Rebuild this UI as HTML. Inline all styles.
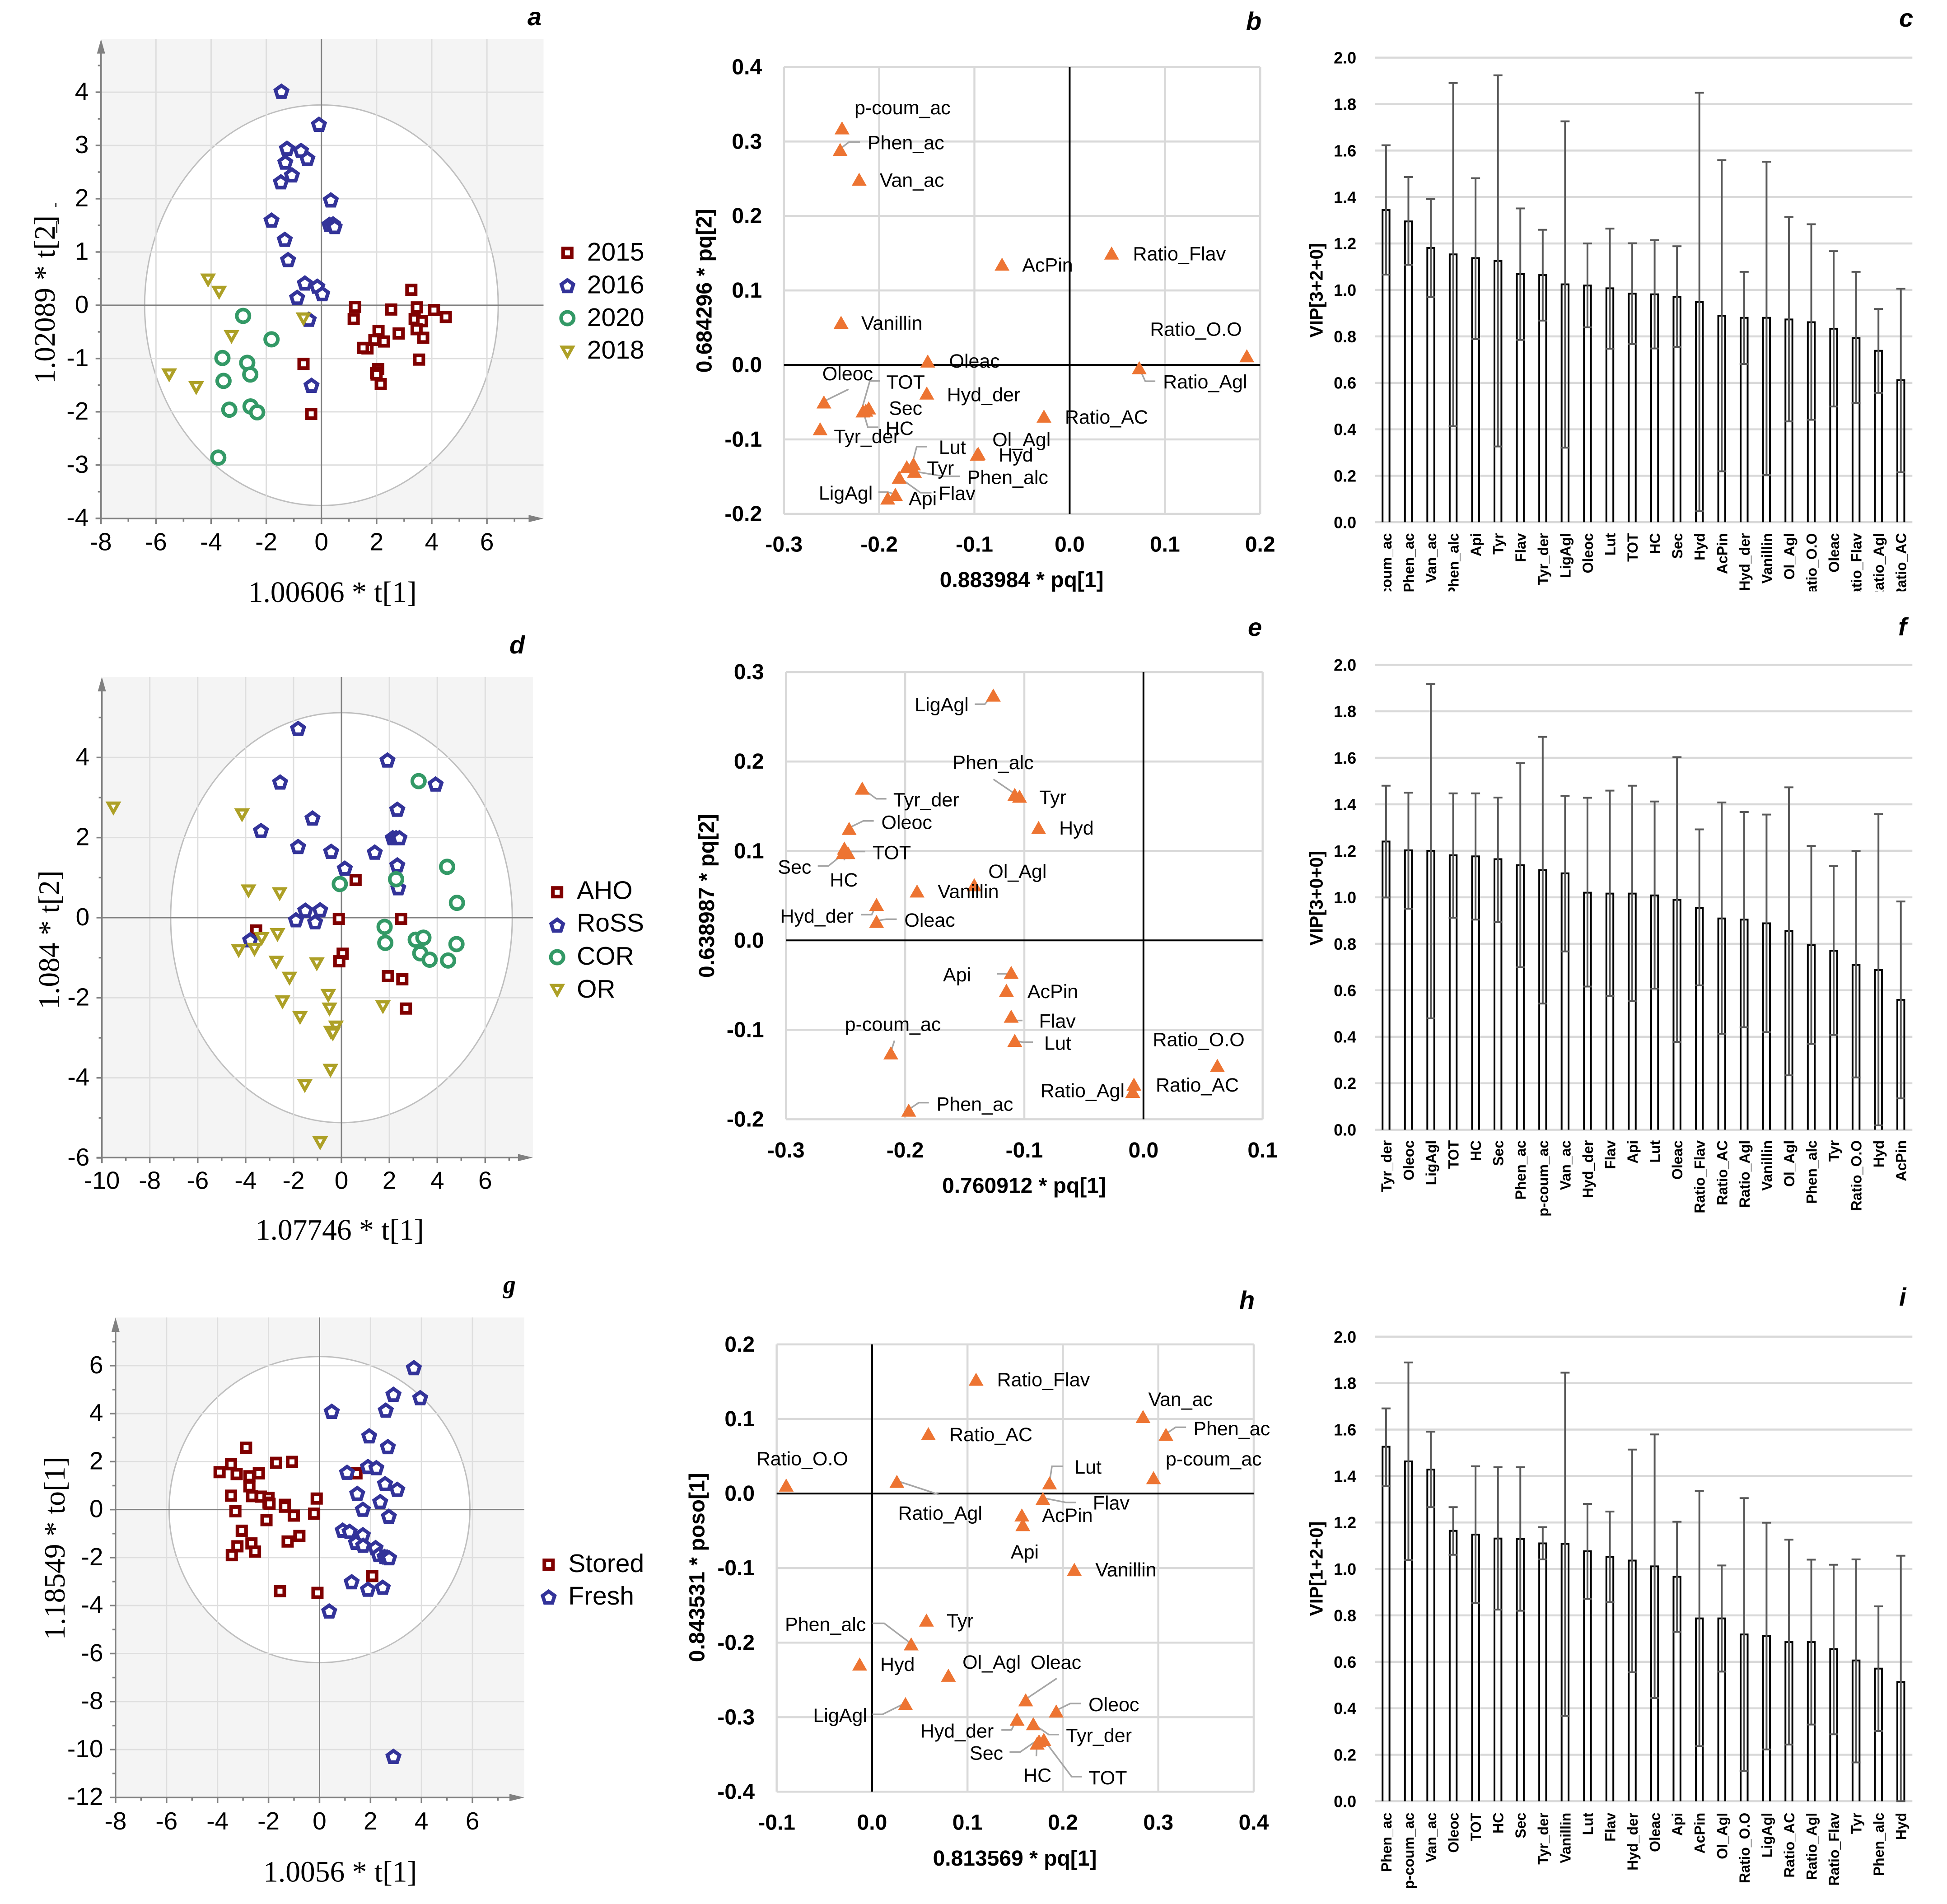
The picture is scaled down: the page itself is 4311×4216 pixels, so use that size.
<!DOCTYPE html>
<html lang="en">
<head>
<meta charset="utf-8">
<title>PCA score, loading and VIP panels</title>
<style>
html,body{margin:0;padding:0;background:#fff}
svg{display:block}
</style>
</head>
<body>
<svg id="figure" xmlns="http://www.w3.org/2000/svg" width="4311" height="4216" viewBox="0 0 4311 4216">
<rect x="0" y="0" width="4311" height="4216" fill="#ffffff"/>
</svg>
<script>
/* ---------- panel a data ---------- */
const aXTicks=[-8,-6,-4,-2,0,2,4,6];
const aYTicks=[-4,-3,-2,-1,0,1,2,3,4];
const a2015X=[3.26,1.22,1.17,2.53,3.46,4.08,4.51,3.38,3.65,3.45,3.69,2.8,2.07,1.92,2.27,1.67,1.51,3.54,-0.65,2.06,1.98,2.0,2.15,-0.37];
const a2015Y=[0.29,-0.03,-0.26,-0.08,-0.04,-0.09,-0.22,-0.26,-0.30,-0.45,-0.61,-0.53,-0.48,-0.65,-0.68,-0.81,-0.80,-1.02,-1.10,-1.20,-1.27,-1.30,-1.48,-2.04];
const a2016X=[-1.45,-0.09,-1.25,-0.74,-0.51,-1.31,-1.07,-1.47,0.34,-1.81,0.29,0.42,0.48,-1.33,-1.21,-0.6,-0.15,0.03,-0.88,-0.46,-0.36];
const a2016Y=[4.02,3.40,2.95,2.91,2.76,2.69,2.45,2.32,1.98,1.60,1.52,1.53,1.48,1.24,0.86,0.42,0.36,0.22,0.15,-0.26,-1.50];
const a2020X=[-2.84,-1.81,-3.59,-2.69,-2.58,-3.55,-2.57,-2.33,-3.34,-3.74];
const a2020Y=[-0.2,-0.64,-0.99,-1.08,-1.30,-1.42,-1.9,-2.01,-1.96,-2.86];
const a2018X=[-4.11,-3.71,-0.65,-3.26,-5.52,-4.54];
const a2018Y=[0.46,0.23,-0.27,-0.6,-1.32,-1.56];

/* ---------- panel d data ---------- */
const dXTicks=[-10,-8,-6,-4,-2,0,2,4,6];
const dYTicks=[-6,-4,-2,0,2,4];
const dAhoX=[0.59,-0.11,2.49,-3.56,0.05,-0.09,1.94,2.54,2.69];
const dAhoY=[0.94,-0.03,-0.03,-0.32,-0.90,-1.09,-1.46,-1.54,-2.27];
const dRossX=[-1.81,1.92,3.93,-2.56,2.33,-1.21,-3.36,2.14,2.28,2.42,-1.81,-0.43,1.39,2.33,0.14,2.37,-1.51,-0.89,-1.90,-1.10,-3.81];
const dRossY=[4.73,3.94,3.34,3.39,2.71,2.49,2.18,2.0,2.0,2.0,1.78,1.66,1.64,1.32,1.24,0.75,0.19,0.20,-0.05,-0.10,-0.55];
const dCorX=[3.22,4.41,2.28,-0.07,4.82,1.8,1.83,3.1,3.42,4.8,3.29,3.68,4.45];
const dCorY=[3.41,1.27,0.96,0.84,0.37,-0.23,-0.63,-0.55,-0.5,-0.66,-0.89,-1.05,-1.07];
const dOrX=[-9.52,-4.15,-3.88,-2.58,-2.67,-3.33,-4.29,-3.63,-2.72,-1.03,-2.17,-2.46,-0.55,-0.5,1.73,-1.73,-0.23,-0.44,-0.36,-0.46,-1.53,-0.89];
const dOrY=[2.72,2.55,0.65,0.58,-0.44,-0.54,-0.84,-0.81,-1.13,-1.17,-1.53,-2.12,-1.96,-2.30,-2.24,-2.51,-2.75,-2.88,-2.92,-3.83,-4.21,-5.64];

/* ---------- panel g data ---------- */
const gXTicks=[-8,-6,-4,-2,0,2,4,6];
const gYTicks=[-12,-10,-8,-6,-4,-2,0,2,4,6];
const gStoredX=[-2.88,-3.47,-3.92,-3.25,-2.38,-1.7,-1.08,1.45,-2.75,-2.75,-3.47,-2.65,-2.3,-2.0,-2.0,-1.96,-1.36,-1.36,-0.11,-3.3,-1.01,-0.21,-2.08,-3.05,-0.79,-1.25,-2.67,-3.22,-2.53,-3.44,2.07,-1.55,-0.08];
const gStoredY=[2.58,1.89,1.56,1.48,1.51,1.95,1.99,1.51,1.39,0.97,0.58,0.56,0.54,0.49,0.29,0.24,0.2,0.12,0.46,-0.07,-0.25,-0.17,-0.44,-0.88,-1.1,-1.33,-1.41,-1.53,-1.75,-1.9,-2.77,-3.4,-3.47];
const gFreshX=[3.7,2.9,3.95,2.6,0.48,1.95,2.68,1.9,2.23,1.08,2.57,3.05,1.48,2.38,1.7,2.72,0.91,1.18,1.7,1.43,1.71,2.2,2.32,2.55,2.65,2.73,1.26,1.9,2.48,0.38,2.9];
const gFreshY=[5.92,4.81,4.67,4.15,4.1,3.08,2.63,1.8,1.75,1.56,1.09,0.85,0.68,0.34,0.02,-0.27,-0.85,-0.9,-1.04,-1.36,-1.48,-1.58,-1.87,-1.95,-1.97,-2.0,-3.0,-3.31,-3.23,-4.22,-10.28];

/* ---------- panel b data ---------- */
const bXTicks=[-0.3,-0.2,-0.1,0,0.1,0.2];
const bYTicks=[-0.2,-0.1,0,0.1,0.2,0.3,0.4];
const bNames=["p-coum_ac","Phen_ac","Van_ac","AcPin","Ratio_Flav","Vanillin","Ratio_O.O","Oleac","Ratio_Agl","Hyd_der","Oleoc","Sec","TOT","HC","Ratio_AC","Tyr_der","Ol_Agl","Hyd","Lut","Tyr","Phen_alc","Flav","LigAgl","Api"];
const bX=[-0.239,-0.241,-0.221,-0.071,0.044,-0.24,0.186,-0.149,0.073,-0.15,-0.258,-0.211,-0.214,-0.217,-0.027,-0.262,-0.096,-0.097,-0.164,-0.171,-0.163,-0.179,-0.183,-0.191];
const bY=[0.318,0.289,0.249,0.135,0.15,0.057,0.012,0.005,-0.004,-0.038,-0.05,-0.058,-0.061,-0.062,-0.069,-0.086,-0.119,-0.12,-0.133,-0.137,-0.143,-0.151,-0.174,-0.179];
const bLabelOffsets={"p-coum_ac":[31,-51],"Phen_ac":[68,-18],"Van_ac":[51,1],"AcPin":[50,1],"Ratio_Flav":[53,1],"Vanillin":[50,1],"Ratio_O.O":[-240,-67],"Oleac":[53,-1],"Ratio_Agl":[59,34],"Hyd_der":[50,3],"Oleoc":[-4,-71],"Sec":[50,0],"TOT":[51,-71],"HC":[56,42],"Ratio_AC":[52,1],"Tyr_der":[34,18],"Ol_Agl":[35,-35],"Hyd":[53,1],"Lut":[63,-42],"Tyr":[50,2],"Phen_alc":[131,14],"Flav":[98,39],"LigAgl":[-190,-4],"Api":[52,0]};
const bLeaderOffsets={"Phen_ac":[[0,-2],[22,-19],[49,-19]],"Ratio_Agl":[[0,0],[15,33],[40,33]],"Oleoc":[[0,-2],[61,-32]],"TOT":[[-10,-3],[10,-73],[35,-73]],"HC":[[-2,-8],[12,40],[38,40]],"Lut":[[-2,-5],[8,-43],[34,-43]],"Phen_alc":[[0,0],[71,12],[113,12]],"Flav":[[0,0],[53,38],[80,38]],"LigAgl":[[-42,-6],[-18,-6],[0,0]]};

/* ---------- panel e data ---------- */
const eXTicks=[-0.3,-0.2,-0.1,0,0.1];
const eYTicks=[-0.2,-0.1,0,0.1,0.2,0.3];
const eNames=["LigAgl","Phen_alc","Tyr","Tyr_der","Hyd","Oleoc","HC","TOT","Sec","Ol_Agl","Vanillin","Hyd_der","Oleac","Api","AcPin","Flav","Lut","p-coum_ac","Ratio_O.O","Ratio_Agl","Ratio_AC","Phen_ac"];
const eX=[-0.126,-0.108,-0.104,-0.236,-0.088,-0.247,-0.251,-0.248,-0.252,-0.142,-0.19,-0.224,-0.224,-0.111,-0.115,-0.111,-0.108,-0.212,0.062,-0.008,-0.009,-0.197];
const eY=[0.274,0.163,0.161,0.17,0.126,0.125,0.103,0.098,0.098,0.062,0.055,0.04,0.021,-0.036,-0.056,-0.085,-0.112,-0.126,-0.14,-0.161,-0.169,-0.19];
const eLabelOffsets={"LigAgl":[-195,23],"Phen_alc":[-154,-80],"Tyr":[49,2],"Tyr_der":[77,28],"Hyd":[51,0],"Oleoc":[80,-16],"TOT":[61,-1],"HC":[-36,78],"Sec":[-162,35],"Ol_Agl":[35,-34],"Vanillin":[51,0],"Hyd_der":[-239,28],"Oleac":[69,-4],"Api":[-169,5],"AcPin":[52,2],"Flav":[69,11],"Lut":[73,6],"p-coum_ac":[-114,-72],"Ratio_O.O":[-160,-65],"Ratio_Agl":[-232,15],"Ratio_AC":[57,-17],"Phen_ac":[69,-16]};
const eLeaderOffsets={"LigAgl":[[0,-3],[-21,22],[-46,22]],"Phen_alc":[[0,-2],[-53,-38]],"Tyr_der":[[0,0],[35,26],[60,26]],"Oleoc":[[0,-2],[35,-19],[61,-19]],"TOT":[[-8,-3],[43,-3]],"HC":[[0,0],[0,30]],"Sec":[[8,-3],[-37,33],[-63,33]],"Hyd_der":[[0,-1],[-12,25],[-38,25]],"Oleac":[[0,-2],[24,-6],[50,-6]],"Api":[[0,3],[-35,3]],"Flav":[[0,0],[3,10],[28,10]],"Lut":[[0,0],[20,4],[45,4]],"p-coum_ac":[[0,-3],[9,-31]],"Phen_ac":[[0,-2],[25,-19],[50,-19]]};

/* ---------- panel h data ---------- */
const hXTicks=[-0.1,0,0.1,0.2,0.3,0.4];
const hYTicks=[-0.4,-0.3,-0.2,-0.1,0,0.1,0.2];
const hNames=["Ratio_Flav","Van_ac","Phen_ac","Ratio_AC","p-coum_ac","Ratio_O.O","Ratio_Agl","Lut","Flav","AcPin","Api","Vanillin","Tyr","Phen_alc","Hyd","Ol_Agl","Oleac","LigAgl","Oleoc","Hyd_der","Tyr_der","Sec","TOT","HC"];
const hX=[0.109,0.284,0.308,0.059,0.295,-0.09,0.026,0.186,0.179,0.157,0.158,0.212,0.057,0.041,-0.013,0.08,0.161,0.035,0.193,0.152,0.169,0.175,0.18,0.173];
const hY=[0.153,0.103,0.079,0.08,0.021,0.011,0.016,0.014,-0.007,-0.029,-0.042,-0.102,-0.17,-0.202,-0.229,-0.244,-0.277,-0.282,-0.292,-0.303,-0.309,-0.332,-0.33,-0.335];
const hLabelOffsets={"Ratio_Flav":[52,0],"Van_ac":[13,-43],"Phen_ac":[68,-15],"Ratio_AC":[52,1],"p-coum_ac":[30,-47],"Ratio_O.O":[-74,-66],"Ratio_Agl":[3,77],"Lut":[62,-40],"Flav":[124,10],"AcPin":[50,0],"Api":[-30,66],"Vanillin":[52,0],"Tyr":[50,1],"Phen_alc":[-313,-49],"Hyd":[51,0],"Ol_Agl":[35,-33],"Oleac":[12,-93],"LigAgl":[-229,28],"Oleoc":[80,-17],"Hyd_der":[-240,28],"Tyr_der":[81,28],"Sec":[-172,29],"TOT":[111,93],"HC":[-34,78]};
const hLeaderOffsets={"Phen_ac":[[0,-2],[24,-18],[50,-18]],"Ratio_Agl":[[0,-2],[105,32]],"Lut":[[0,-3],[6,-41],[33,-41]],"Flav":[[0,-2],[57,9],[82,9]],"Phen_alc":[[0,-1],[-67,-51],[-96,-51]],"Oleac":[[0,-2],[77,-53]],"LigAgl":[[0,-2],[-57,26],[-82,26]],"Oleoc":[[0,-2],[35,-19],[62,-19]],"Hyd_der":[[0,-2],[-14,26],[-39,26]],"Tyr_der":[[0,0],[38,26],[64,26]],"Sec":[[0,-5],[-47,27],[-73,27]],"TOT":[[0,0],[69,91],[94,91]],"HC":[[0,-10],[-2,32]]};

/* ---------- VIP panels data ---------- */
const vipTicks=[0,0.2,0.4,0.6,0.8,1.0,1.2,1.4,1.6,1.8,2.0];
const cCats=["p-coum_ac","Phen_ac","Van_ac","Phen_alc","Api","Tyr","Flav","Tyr_der","LigAgl","Oleoc","Lut","TOT","HC","Sec","Hyd","AcPin","Hyd_der","Vanillin","Ol_Agl","Ratio_O.O","Oleac","Ratio_Flav","Ratio_Agl","Ratio_AC"];
const cMean=[1.344,1.295,1.181,1.153,1.137,1.125,1.068,1.064,1.024,1.019,1.007,0.984,0.981,0.970,0.948,0.889,0.880,0.880,0.873,0.861,0.833,0.793,0.738,0.611];
const cUpper=[1.623,1.486,1.391,1.891,1.481,1.924,1.351,1.259,1.726,1.2,1.264,1.201,1.214,1.188,1.849,1.559,1.078,1.552,1.314,1.283,1.167,1.078,0.918,1.005];
const cLower=[1.066,1.108,0.969,0.413,0.788,0.326,0.785,0.868,0.321,0.839,0.747,0.767,0.748,0.755,0.047,0.219,0.681,0.203,0.434,0.441,0.498,0.514,0.557,0.215];
const fCats=["Tyr_der","Oleoc","LigAgl","TOT","HC","Sec","Phen_ac","p-coum_ac","Van_ac","Hyd_der","Flav","Api","Lut","Oleac","Ratio_Flav","Ratio_AC","Ratio_Agl","Vanillin","Ol_Agl","Phen_alc","Tyr","Ratio_O.O","Hyd","AcPin"];
const fMean=[1.240,1.202,1.200,1.181,1.176,1.164,1.138,1.117,1.103,1.020,1.016,1.016,1.008,0.989,0.954,0.909,0.904,0.888,0.855,0.794,0.770,0.709,0.687,0.559];
const fUpper=[1.480,1.450,1.917,1.447,1.447,1.429,1.577,1.690,1.436,1.428,1.459,1.480,1.412,1.603,1.292,1.408,1.367,1.356,1.473,1.221,1.134,1.199,1.358,0.982];
const fLower=[0.999,0.951,0.479,0.912,0.904,0.893,0.699,0.543,0.767,0.616,0.576,0.553,0.607,0.378,0.621,0.413,0.441,0.420,0.234,0.369,0.408,0.225,0.019,0.135];
const iCats=["Phen_ac","p-coum_ac","Van_ac","Oleoc","TOT","HC","Sec","Tyr_der","Vanillin","Lut","Flav","Hyd_der","Oleac","Api","AcPin","Ol_Agl","Ratio_O.O","LigAgl","Ratio_AC","Ratio_Agl","Ratio_Flav","Tyr","Phen_alc","Hyd"];
const iMean=[1.526,1.463,1.428,1.164,1.148,1.131,1.129,1.110,1.108,1.076,1.052,1.036,1.011,0.966,0.787,0.787,0.718,0.711,0.685,0.685,0.655,0.606,0.571,0.513];
const iUpper=[1.691,1.889,1.591,1.266,1.442,1.438,1.438,1.180,1.845,1.280,1.247,1.514,1.579,1.203,1.336,1.015,1.305,1.199,1.126,1.040,1.018,1.041,0.839,1.057];
const iLower=[1.356,1.038,1.266,1.061,0.853,0.825,0.820,1.041,0.367,0.871,0.857,0.555,0.444,0.729,0.237,0.558,0.130,0.223,0.244,0.330,0.288,0.167,0.302,0];

/* ---------- drawing helpers ---------- */
const NS="http://www.w3.org/2000/svg";
const SANS='"Liberation Sans", sans-serif';
const SERIF='"Liberation Serif", serif';
const figure=document.getElementById('figure');
function make(tag,attrs,parent){
  const e=document.createElementNS(NS,tag);
  for(const k in attrs){e.setAttribute(k,attrs[k]);}
  parent.appendChild(e);
  return e;
}
function write(str,attrs,parent){
  const e=make('text',attrs,parent);
  e.textContent=str;
  return e;
}
function fmt1(v){return v.toFixed(1);}
function slug(s){return String(s).toLowerCase().replace(/[^a-z0-9]+/g,'-');}
function pentagonPoints(cx,cy,r){
  const pts=[];
  for(let i=0;i<5;i++){
    const a=-Math.PI/2+i*2*Math.PI/5;
    pts.push((cx+r*Math.cos(a)).toFixed(1)+','+(cy+1.8+r*Math.sin(a)).toFixed(1));
  }
  return pts.join(' ');
}
function drawMarker(shape,cx,cy,color,parent){
  if(shape==='square'){
    return make('rect',{x:cx-9.5,y:cy-9.5,width:19,height:19,fill:'#fff',stroke:color,'stroke-width':8},parent);
  }
  if(shape==='pentagon'){
    return make('polygon',{points:pentagonPoints(cx,cy,14),fill:'#fff',stroke:color,'stroke-width':8},parent);
  }
  if(shape==='circle'){
    return make('circle',{cx:cx,cy:cy,r:14,fill:'#fff',stroke:color,'stroke-width':8},parent);
  }
  const pts=[(cx-11.5)+','+(cy-12.5),(cx+11.5)+','+(cy-12.5),cx+','+(cy+8)].join(' ');
  return make('polygon',{points:pts,fill:'#fff',stroke:color,'stroke-width':7},parent);
}
function panelLetter(letter,x,y,family,parent){
  const t=write(letter,{x:x,y:y,'font-family':family,'font-size':56,'font-weight':'bold','font-style':'italic',fill:'#000'},parent);
  
  
}

/* ---------- score plots ---------- */
function drawScore(cfg){
  const p=make('g',{},figure);
  
  
  const zx=z=>cfg.ox+cfg.sx*z;
  const zy=z=>cfg.oy+cfg.sy*z;
  const X=v=>zx(cfg.x0+cfg.kx*v);
  const Y=v=>zy(cfg.y0-cfg.ky*v);
  const L=zx(cfg.bg[0]),T=zy(cfg.bg[1]),R=zx(cfg.bg[2]),B=zy(cfg.bg[3]);
  const AXIS='#808080';

  const bg=make('rect',{x:L,y:T,width:R-L,height:B-T,fill:'#f4f4f4'},p);
  
  

  const ell=make('ellipse',{cx:X(0),cy:Y(0),rx:cfg.sx*cfg.kx*cfg.rx,ry:cfg.sy*cfg.ky*cfg.ry,fill:'#fff',stroke:'#bfbfbf','stroke-width':3},p);
  
  

  cfg.xTicks.forEach(v=>{
    if(v===cfg.xTicks[0]||v===0)return;
    const g=make('line',{x1:X(v),x2:X(v),y1:T,y2:B,stroke:'#dedede','stroke-width':3},p);
    
    
  });
  cfg.yTicks.forEach(v=>{
    if(v===cfg.yTicks[0]||v===0)return;
    const g=make('line',{x1:L,x2:R,y1:Y(v),y2:Y(v),stroke:'#dedede','stroke-width':3},p);
    
    
  });

  const zv=make('line',{x1:X(0),x2:X(0),y1:T,y2:B,stroke:AXIS,'stroke-width':3},p);
  
  
  const zh=make('line',{x1:L,x2:R,y1:Y(0),y2:Y(0),stroke:AXIS,'stroke-width':3},p);
  
  

  const yAxis=make('line',{x1:L,x2:L,y1:T+10,y2:B+12,stroke:AXIS,'stroke-width':3.5},p);
  
  
  const xAxis=make('line',{x1:L-12,x2:R-10,y1:B,y2:B,stroke:AXIS,'stroke-width':3.5},p);
  
  
  const arrowUp=make('polygon',{points:[L+','+T,(L-9)+','+(T+32),(L+9)+','+(T+32)].join(' '),fill:AXIS},p);
  
  
  const arrowRight=make('polygon',{points:[R+','+B,(R-33)+','+(B-8),(R-33)+','+(B+8)].join(' '),fill:AXIS},p);
  
  

  /* minor ticks */
  const lastXTick=cfg.xTicks[cfg.xTicks.length-1];
  for(let v=cfg.xTicks[0];v<=lastXTick+cfg.xMinor;v+=cfg.xMinor){
    if(X(v)>R-34)break;
    const major=cfg.xTicks.indexOf(v)>=0;
    const t=make('line',{x1:X(v),x2:X(v),y1:B,y2:B+(major?12:7),stroke:AXIS,'stroke-width':3.5},p);
    
    
  }
  const lastYTick=cfg.yTicks[cfg.yTicks.length-1];
  for(let v=cfg.yTicks[0];v<=lastYTick+cfg.yMinor;v+=cfg.yMinor){
    if(Y(v)<T+34)break;
    const major=cfg.yTicks.indexOf(v)>=0;
    const t=make('line',{x1:L-(major?12:7),x2:L,y1:Y(v),y2:Y(v),stroke:AXIS,'stroke-width':3.5},p);
    
    
  }

  cfg.xTicks.forEach(v=>{
    const t=write(String(v),{x:X(v),y:zy(cfg.xLabelZ)+20,'text-anchor':'middle','font-family':SANS,'font-size':55,fill:'#000'},p);
    
    
  });
  cfg.yTicks.forEach(v=>{
    const t=write(String(v),{x:zx(cfg.yLabelZ),y:Y(v)+17,'text-anchor':'end','font-family':SANS,'font-size':55,fill:'#000'},p);
    
    
  });

  const xt=write(cfg.xTitle,{x:zx(cfg.xTitlePos[0]),y:zy(cfg.xTitlePos[1])+22,'text-anchor':'middle','font-family':SERIF,'font-size':65.5,fill:'#000'},p);
  
  
  const ytx=zx(cfg.yTitlePos[0])+22,yty=zy(cfg.yTitlePos[1]);
  const yt=write(cfg.yTitle,{x:ytx,y:yty,transform:'rotate(-90 '+ytx+' '+yty+')','text-anchor':'middle','font-family':SERIF,'font-size':65.5,fill:'#000'},p);
  
  

  cfg.series.forEach(s=>{
    const g=make('g',{},p);
    
    
    s.xs.forEach((vx,i)=>{
      const m=drawMarker(s.shape,X(vx),Y(s.ys[i]),s.color,g);
      
      
    });
  });

  cfg.series.forEach((s,i)=>{
    const g=make('g',{},p);
    
    
    const m=drawMarker(s.shape,zx(cfg.legendMarkerX),zy(cfg.legendMarkerY[i]),s.color,g);
    
    
    const t=write(s.key,{x:zx(cfg.legendTextX),y:zy(cfg.legendTextY[i])+20,'font-family':SANS,'font-size':57,fill:'#000'},g);
    
    
  });
  panelLetter(cfg.id,cfg.letter[0],cfg.letter[1],cfg.letterFamily||SANS,p);
  return {zx,zy,group:p};
}

const scoreA=drawScore({id:'a',ox:0,sx:0.9439,oy:0,sy:0.8929,bg:[237,97,1275,1286],x0:754,kx:64.7,y0:757,ky:132.1,rx:6.41,ry:3.76,
  xTicks:aXTicks,yTicks:aYTicks,xMinor:1,yMinor:0.5,xLabelZ:1342,yLabelZ:208,
  xTitle:'1.00606 * t[1]',yTitle:'1.02089 * t[2]',xTitlePos:[780,1468],yTitlePos:[105,743],
  series:[{key:'2015',shape:'square',color:'#800000',xs:a2015X,ys:a2015Y},{key:'2016',shape:'pentagon',color:'#333399',xs:a2016X,ys:a2016Y},{key:'2020',shape:'circle',color:'#339966',xs:a2020X,ys:a2020Y},{key:'2018',shape:'triangle',color:'#ada026',xs:a2018X,ys:a2018Y}],
  legendMarkerX:1331,legendMarkerY:[627,708,789,875],legendTextX:1377,legendTextY:[624,705,786,867],letter:[1168,56]});
const strayDash=make('line',{x1:scoreA.zx(131),x2:scoreA.zx(131),y1:scoreA.zy(503),y2:scoreA.zy(513),stroke:'#333','stroke-width':3},scoreA.group);


const strayBar=make('line',{x1:scoreA.zx(133),x2:scoreA.zx(133),y1:scoreA.zy(548),y2:scoreA.zy(578),stroke:'#333','stroke-width':3},scoreA.group);



drawScore({id:'d',ox:0,sx:0.9439,oy:1398,sy:0.8929,bg:[239,113,1250,1305],x0:801,kx:56.2,y0:710,ky:99.3,rx:7.13,ry:5.12,
  xTicks:dXTicks,yTicks:dYTicks,xMinor:1,yMinor:1,xLabelZ:1360,yLabelZ:210,
  xTitle:'1.07746 * t[1]',yTitle:'1.084 * t[2]',xTitlePos:[797,1484],yTitlePos:[115,765],
  series:[{key:'AHO',shape:'square',color:'#800000',xs:dAhoX,ys:dAhoY},{key:'RoSS',shape:'pentagon',color:'#333399',xs:dRossX,ys:dRossY},{key:'COR',shape:'circle',color:'#339966',xs:dCorX,ys:dCorY},{key:'OR',shape:'triangle',color:'#ada026',xs:dOrX,ys:dOrY}],
  legendMarkerX:1307,legendMarkerY:[647,728,808,892],legendTextX:1353,legendTextY:[641,722,804,886],letter:[1128,1447]});

drawScore({id:'g',ox:0,sx:0.9439,oy:2799,sy:0.9031,bg:[271,131,1230,1308],x0:749.5,kx:59.8,y0:602,ky:58.83,rx:5.9,ry:6.38,
  xTicks:gXTicks,yTicks:gYTicks,xMinor:1,yMinor:1,xLabelZ:1364,yLabelZ:242,
  xTitle:'1.0056 * t[1]',yTitle:'1.18549 * to[1]',xTitlePos:[798,1490],yTitlePos:[128,697],
  series:[{key:'Stored',shape:'square',color:'#800000',xs:gStoredX,ys:gStoredY},{key:'Fresh',shape:'pentagon',color:'#333399',xs:gFreshX,ys:gFreshY}],
  legendMarkerX:1287,legendMarkerY:[737,816],legendTextX:1333,legendTextY:[733,813],letter:[1114,2863],letterFamily:SERIF});

/* ---------- loading plots ---------- */
function drawLoading(cfg){
  const p=make('g',{},figure);
  
  
  const zx=z=>cfg.ox+cfg.sx*z;
  const zy=z=>cfg.oy+cfg.sy*z;
  const X=v=>zx(cfg.x0+cfg.kx*v);
  const Y=v=>zy(cfg.y0-cfg.ky*v);
  const L=X(cfg.xTicks[0]),R=X(cfg.xTicks[cfg.xTicks.length-1]);
  const T=Y(cfg.yTicks[cfg.yTicks.length-1]),B=Y(cfg.yTicks[0]);

  cfg.xTicks.forEach(v=>{
    if(v===0)return;
    const g=make('line',{x1:X(v),x2:X(v),y1:T,y2:B,stroke:'#d9d9d9','stroke-width':4.5},p);
    
    
  });
  cfg.yTicks.forEach(v=>{
    if(v===0)return;
    const g=make('line',{x1:L,x2:R,y1:Y(v),y2:Y(v),stroke:'#d9d9d9','stroke-width':4.5},p);
    
    
  });
  const zv=make('line',{x1:X(0),x2:X(0),y1:T,y2:B,stroke:'#000','stroke-width':4},p);
  
  
  const zh=make('line',{x1:L,x2:R,y1:Y(0),y2:Y(0),stroke:'#000','stroke-width':4},p);
  
  

  cfg.xTicks.forEach(v=>{
    const t=write(fmt1(v),{x:X(v),y:zy(cfg.xLabelZ)+17,'text-anchor':'middle','font-family':SANS,'font-size':48,'font-weight':'bold',fill:'#000'},p);
    
    
  });
  cfg.yTicks.forEach(v=>{
    const t=write(fmt1(v),{x:zx(cfg.yLabelZ),y:Y(v)+16,'text-anchor':'end','font-family':SANS,'font-size':48,'font-weight':'bold',fill:'#000'},p);
    
    
  });
  const xt=write(cfg.xTitle,{x:zx(cfg.xTitlePos[0]),y:zy(cfg.xTitlePos[1])+17,'text-anchor':'middle','font-family':SANS,'font-size':48,'font-weight':'bold',fill:'#000'},p);
  
  
  const ytx=zx(cfg.yTitlePos[0])+17,yty=zy(cfg.yTitlePos[1]);
  const yt=write(cfg.yTitle,{x:ytx,y:yty,transform:'rotate(-90 '+ytx+' '+yty+')','text-anchor':'middle','font-family':SANS,'font-size':48,'font-weight':'bold',fill:'#000'},p);
  
  

  cfg.names.forEach((name,i)=>{
    const mx=X(cfg.xs[i]),my=Y(cfg.ys[i]);
    const leader=cfg.leaders[name];
    if(leader){
      const pts=leader.map(o=>(mx+o[0]*cfg.sx).toFixed(1)+','+(my+o[1]*cfg.sy).toFixed(1)).join(' ');
      const l=make('polyline',{points:pts,fill:'none',stroke:'#a6a6a6','stroke-width':3.5},p);
      
      
    }
  });
  cfg.names.forEach((name,i)=>{
    const mx=X(cfg.xs[i]),my=Y(cfg.ys[i]);
    const pts=[mx+','+(my-15),(mx-16.5)+','+(my+14),(mx+16.5)+','+(my+14)].join(' ');
    const m=make('polygon',{points:pts,fill:'#ed7432'},p);
    
    
    const o=cfg.labels[name];
    const t=write(name,{x:mx+o[0]*cfg.sx,y:my+o[1]*cfg.sy+15,'font-family':SANS,'font-size':43,fill:'#000'},p);
    
    
  });
  panelLetter(cfg.id,cfg.letter[0],cfg.letter[1],SANS,p);
}

drawLoading({id:'b',ox:1480,sx:0.8929,oy:0,sy:0.8929,x0:995,kx:2362,y0:905,ky:1847,xTicks:bXTicks,yTicks:bYTicks,xLabelZ:1349,yLabelZ:232,
  xTitle:'0.883984 * pq[1]',yTitle:'0.684296 * pq[2]',xTitlePos:[876,1437],yTitlePos:[88,721],
  names:bNames,xs:bX,ys:bY,labels:bLabelOffsets,leaders:bLeaderOffsets,letter:[2759,66]});
drawLoading({id:'e',ox:1480,sx:0.8929,oy:1397,sy:0.8929,x0:1178,kx:2955,y0:767.5,ky:2218,xTicks:eXTicks,yTicks:eYTicks,xLabelZ:1287,yLabelZ:237,
  xTitle:'0.760912 * pq[1]',yTitle:'0.638987 * pq[2]',xTitlePos:[882,1375],yTitlePos:[94,657],
  names:eNames,xs:eX,ys:eY,labels:eLabelOffsets,leaders:eLeaderOffsets,letter:[2763,1408]});
drawLoading({id:'h',ox:1480,sx:0.8929,oy:2798,sy:0.9031,x0:505,kx:2366,y0:563.7,ky:1828,xTicks:hXTicks,yTicks:hYTicks,xLabelZ:1369,yLabelZ:214,
  xTitle:'0.813569 * pq[1]',yTitle:'0.843531 * poso[1]',xTitlePos:[859,1457],yTitlePos:[70,745],
  names:hNames,xs:hX,ys:hY,labels:hLabelOffsets,leaders:hLeaderOffsets,letter:[2744,2898]});

/* ---------- VIP bar charts ---------- */
function drawVip(cfg){
  const p=make('g',{},figure);
  
  
  const zx=z=>cfg.ox+cfg.sx*z;
  const zy=z=>cfg.oy+cfg.sy*z;
  const Y=v=>zy(cfg.y0-(cfg.y0-cfg.y2)*v/2);
  const firstX=zx(207),lastX=zx(1456);
  const n=cfg.cats.length;
  const barX=i=>firstX+(lastX-firstX)*i/(n-1);
  const left=zx(180),right=zx(1484);

  cfg.ticks.forEach(v=>{
    const g=make('line',{x1:left,x2:right,y1:Y(v),y2:Y(v),stroke:'#d9d9d9','stroke-width':4.5},p);
    
    
    const t=write(fmt1(v),{x:zx(135),y:Y(v)+13,'text-anchor':'end','font-family':SANS,'font-size':36,'font-weight':'bold',fill:'#000'},p);
    
    
  });

  const ytx=zx(38)+14,yty=zy(cfg.yTitleZ);
  const yt=write(cfg.yTitle,{x:ytx,y:yty,transform:'rotate(-90 '+ytx+' '+yty+')','text-anchor':'middle','font-family':SANS,'font-size':41,'font-weight':'bold',fill:'#000'},p);
  
  

  const clipId='vip-clip-'+cfg.id;
  const defs=make('defs',{},p);
  const clip=make('clipPath',{id:clipId},defs);
  make('rect',{x:left,y:zy(cfg.labelTopZ)-6,width:right-left,height:cfg.clipHeight},clip);
  const labels=make('g',{'clip-path':'url(#'+clipId+')'},p);
  
  

  cfg.cats.forEach((name,i)=>{
    const x=barX(i);
    const b=make('path',{d:'M'+(x-7.7)+' '+Y(0)+'V'+Y(cfg.mean[i])+'H'+(x+7.7)+'V'+Y(0),fill:'none',stroke:'#000','stroke-width':4},p);
    
    
    const e=make('path',{d:'M'+x+' '+Y(cfg.upper[i])+'V'+Y(cfg.lower[i])+'M'+(x-10)+' '+Y(cfg.upper[i])+'H'+(x+10)+'M'+(x-10)+' '+Y(cfg.lower[i])+'H'+(x+10),fill:'none',stroke:'#595959','stroke-width':4},p);
    
    
    const ly=zy(cfg.labelTopZ),lx=x+12;
    const t=write(name,{x:lx,y:ly,transform:'rotate(-90 '+lx+' '+ly+')','text-anchor':'end','font-family':SANS,'font-size':32,'font-weight':'bold',fill:'#000'},labels);
    
    
  });
  panelLetter(cfg.id,cfg.letter[0],cfg.letter[1],SANS,p);
}

drawVip({id:'c',ox:2880,sx:0.9126,oy:0,sy:0.8929,y2:143,y0:1295,ticks:vipTicks,cats:cCats,mean:cMean,upper:cUpper,lower:cLower,yTitle:'VIP[3+2+0]',yTitleZ:720,labelTopZ:1322,clipHeight:135,letter:[4205,59]});
drawVip({id:'f',ox:2880,sx:0.9126,oy:1398,sy:0.8929,y2:83,y0:1236,ticks:vipTicks,cats:fCats,mean:fMean,upper:fUpper,lower:fLower,yTitle:'VIP[3+0+0]',yTitleZ:662,labelTopZ:1262,clipHeight:220,letter:[4203,1407]});
drawVip({id:'i',ox:2880,sx:0.9126,oy:2799,sy:0.9031,y2:178,y0:1317,ticks:vipTicks,cats:iCats,mean:iMean,upper:iUpper,lower:iLower,yTitle:'VIP[1+2+0]',yTitleZ:747,labelTopZ:1345,clipHeight:220,letter:[4205,2891]});
</script>
</body>
</html>
